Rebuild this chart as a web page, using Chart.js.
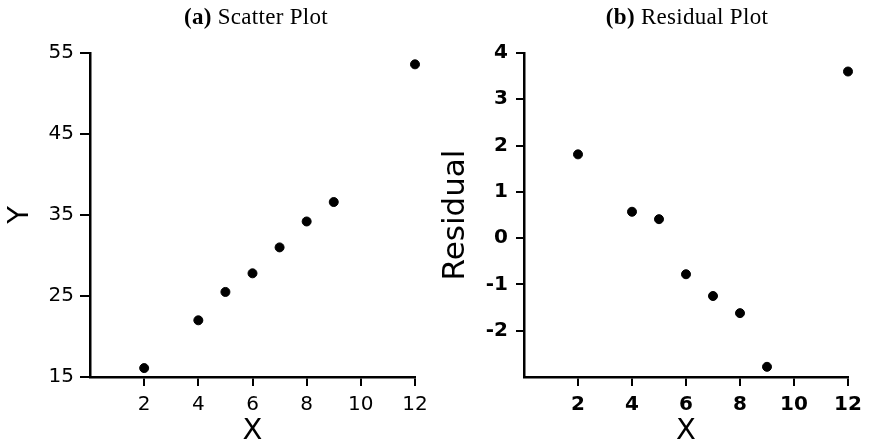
<!DOCTYPE html>
<html>
<head>
<meta charset="utf-8">
<script src="https://cdn.jsdelivr.net/npm/chart.js@4"></script>
<style>
  body { margin: 0; background: #fff; }
  #wrap { position: relative; width: 870px; height: 446px; }
  canvas { position: absolute; top: 0; }
  #c1 { left: 0; }
  #c2 { left: 435px; }
  .ttl {
    position: absolute; top: 5px; transform: translateX(-50%);
    font-family: "Liberation Serif", serif; font-size: 23px; line-height: 23px;
    letter-spacing: 0.3px; white-space: nowrap; color: #000;
  }
</style>
</head>
<body>
<div id="wrap">
  <canvas id="c1" width="435" height="446"></canvas>
  <canvas id="c2" width="435" height="446"></canvas>
  <div class="ttl" style="left:256px"><b>(a)</b> Scatter Plot</div>
  <div class="ttl" style="left:687px"><b>(b)</b> Residual Plot</div>
</div>
<script>
const xValues = [2, 4, 5, 6, 7, 8, 9, 12]
const yValues = [16.1, 22.0, 25.5, 27.8, 31.0, 34.2, 36.6, 53.6]
const residuals = [1.81, 0.57, 0.41, -0.78, -1.25, -1.62, -2.78, 3.60]
const xTicks = [2, 4, 6, 8, 10, 12]

function makeChart(id, ys, yOpts, tickWeight, yWidth, rightPad) {
  const points = xValues.map((x, i) => ({ x: x, y: ys[i] }))
  new Chart(document.getElementById(id), {
    type: 'scatter',
    data: {
      datasets: [{
        data: points,
        backgroundColor: '#000',
        borderColor: '#000',
        pointRadius: 4.5,
        pointHoverRadius: 4.5,
        clip: false
      }]
    },
    options: {
      responsive: false,
      animation: false,
      events: [],
      layout: { padding: { top: 53, right: rightPad, bottom: 0, left: 0 } },
      plugins: { legend: { display: false }, tooltip: { enabled: false } },
      scales: {
        x: {
          type: 'linear',
          min: 0, max: 12,
          afterFit: (s) => { s.height = 69 },
          border: { display: true, color: '#000', width: 2.5 },
          grid: { drawOnChartArea: false, drawTicks: true, tickLength: 9, color: '#000', lineWidth: 2 },
          afterBuildTicks: (s) => { s.ticks = [0].concat(xTicks).map(v => ({ value: v })) },
          ticks: {
            autoSkip: false, maxRotation: 0, padding: 7, color: '#000',
            font: { family: 'DejaVu Sans', size: 20, weight: tickWeight },
            callback: (v) => xTicks.includes(v) ? String(v) : null
          },
          title: {
            display: true, text: 'X', color: '#000',
            font: { family: 'DejaVu Sans', size: 29, lineHeight: 1 },
            padding: { top: 0, bottom: 0 }
          }
        },
        y: Object.assign({
          type: 'linear',
          afterFit: (s) => { s.width = yWidth },
          border: { display: true, color: '#000', width: 2.5 },
        }, yOpts)
      }
    }
  })
}

const yTicksA = [15, 25, 35, 45, 55]
makeChart('c1', yValues, {
  min: 15, max: 55,
  grid: { drawOnChartArea: false, drawTicks: true, tickLength: 10, color: '#000', lineWidth: 2 },
  afterBuildTicks: (s) => { s.ticks = yTicksA.map(v => ({ value: v })) },
  ticks: {
    autoSkip: false, padding: 6, color: '#000',
    font: { family: 'DejaVu Sans', size: 20 },
    callback: (v) => String(v)
  },
  title: {
    display: true, text: 'Y', color: '#000',
    font: { family: 'DejaVu Sans', size: 29, lineHeight: 1 },
    padding: { top: 6, bottom: 0 }
  }
}, 'normal', 90, 20)

const yTicksB = [-2, -1, 0, 1, 2, 3, 4]
makeChart('c2', residuals, {
  min: -3, max: 4,
  grid: { drawOnChartArea: false, drawTicks: true, tickLength: 8, color: '#000', lineWidth: 2 },
  afterBuildTicks: (s) => { s.ticks = yTicksB.map(v => ({ value: v })) },
  ticks: {
    autoSkip: false, padding: 8, color: '#000',
    font: { family: 'DejaVu Sans', size: 20, weight: 'bold' },
    callback: (v) => String(v)
  },
  title: {
    display: true, text: 'Residual', color: '#000',
    font: { family: 'DejaVu Sans', size: 31, lineHeight: 1 },
    padding: { top: 5, bottom: 0 }
  }
}, 'bold', 89, 22)
</script>
</body>
</html>
